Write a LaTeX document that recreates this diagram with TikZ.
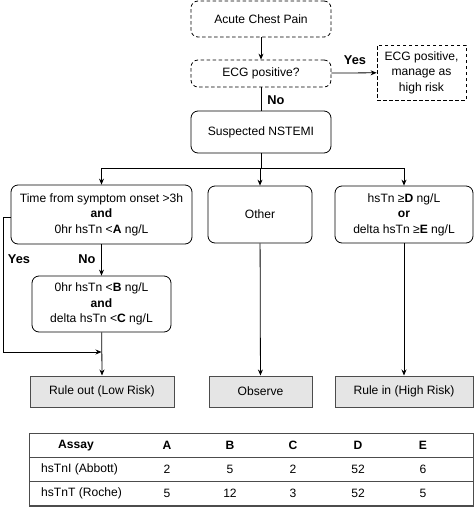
\documentclass[tikz,border=0pt]{standalone}
\usepackage{fontspec}
\setmainfont{Liberation Sans}
\usetikzlibrary{arrows.meta}
\begin{document}
\begin{tikzpicture}[x=1pt,y=-1pt,
  every node/.style={font=\fontsize{12.1}{15.5}\selectfont, align=center, inner sep=0pt},
  box/.style={draw, line width=0.8pt, rounded corners=7pt},
  dashbox/.style={box, dashed, dash pattern=on 3.5pt off 2.5pt},
  sqdash/.style={draw, line width=0.8pt, dashed, dash pattern=on 3.5pt off 2.5pt},
  outbox/.style={draw=black!70, line width=1pt, fill=black!10},
  conn/.style={line width=0.8pt},
  arr/.style={conn, -{Stealth[length=6pt,width=5pt]}},
  lbl/.style={font=\fontsize{12.8}{14}\selectfont\bfseries},
  th/.style={font=\fontsize{12.1}{14}\selectfont\bfseries},
]
\useasboundingbox (0,0) rectangle (474,507);

\node[dashbox, minimum width=140, minimum height=36] (acute) at (261,19) {Acute Chest Pain};
\node[dashbox, minimum width=140, minimum height=27] (ecg) at (261,73.5) {ECG positive?};
\node[sqdash, minimum width=89, minimum height=55] (ecgpos) at (421.5,72.5) {ECG positive,\\manage as\\high risk};
\node[box, minimum width=140, minimum height=42] (nstemi) at (261,132) {Suspected NSTEMI};

\node[box, minimum width=181, minimum height=59] (left) at (101.5,214.5) {Time from symptom onset >3h\\\textbf{and}\\0hr hsTn <\textbf{A} ng/L};
\node[box, minimum width=104, minimum height=57] (other) at (260,214.5) {Other};
\node[box, minimum width=138, minimum height=57] (right) at (404,214.5) {hsTn ≥\textbf{D} ng/L\\\textbf{or}\\delta hsTn ≥\textbf{E} ng/L};
\node[box, minimum width=139, minimum height=56] (box2) at (101.5,304) {0hr hsTn <\textbf{B} ng/L\\\textbf{and}\\delta hsTn <\textbf{C} ng/L};

\node[outbox, minimum width=144, minimum height=31] (ruleout) at (102,391.5) {Rule out (Low Risk)};
\node[outbox, minimum width=103, minimum height=31] (observe) at (260.5,391.5) {Observe};
\node[outbox, minimum width=138, minimum height=31] (rulein) at (404,391.5) {Rule in (High Risk)};

% connectors
\draw[arr] (acute) -- (ecg);
\draw[arr] (ecg) -- (ecgpos);
\node[lbl] (yes1) at (355,60) {Yes};
\coordinate (split) at (261,168);
\draw[conn] (ecg) -- (nstemi);
\node[lbl] (no1) at (276,100) {No};
\draw[conn] (nstemi) -- (split);
\draw[arr] (split) -| (left.north);
\draw[arr] (split) -| (other.north);
\draw[arr] (split) -| (right.north);
\draw[arr] (left) -- (box2);
\node[lbl] (no2) at (87,259) {No};
\coordinate (yw) at (3,217);
\coordinate (join) at (101.5,352);
\draw[arr] (left.west |- yw) -- (yw) |- (join);
\node[lbl] (yes2) at (19,259) {Yes};
\draw[arr] (box2) -- (ruleout.north);
\draw[arr] (other) -- (observe);
\draw[arr] (right) -- (rulein);

% table
\draw[draw=black!70, line width=1.4pt] (29.5,433.5) rectangle (473.3,506);
\draw[draw=black!70, line width=1pt] (29.5,457) -- (473.3,457);
\draw[draw=black!70, line width=1pt] (29.5,481) -- (473.3,481);
\node[th] (hA) at (76,445.5) {Assay};
\node[th] (hB) at (167,445.5) {A};
\node[th] (hC) at (230,445.5) {B};
\node[th] (hD) at (293,445.5) {C};
\node[th] (hE) at (358,445.5) {D};
\node[th] (hF) at (423,445.5) {E};
\node[anchor=west] (r1) at (41,469) {hsTnI (Abbott)};
\node (r1a) at (167,469) {2};
\node (r1b) at (230,469) {5};
\node (r1c) at (293,469) {2};
\node (r1d) at (358,469) {52};
\node (r1e) at (423,469) {6};
\node[anchor=west] (r2) at (41,493.5) {hsTnT (Roche)};
\node (r2a) at (167,493.5) {5};
\node (r2b) at (230,493.5) {12};
\node (r2c) at (293,493.5) {3};
\node (r2d) at (358,493.5) {52};
\node (r2e) at (423,493.5) {5};
\end{tikzpicture}
\end{document}
